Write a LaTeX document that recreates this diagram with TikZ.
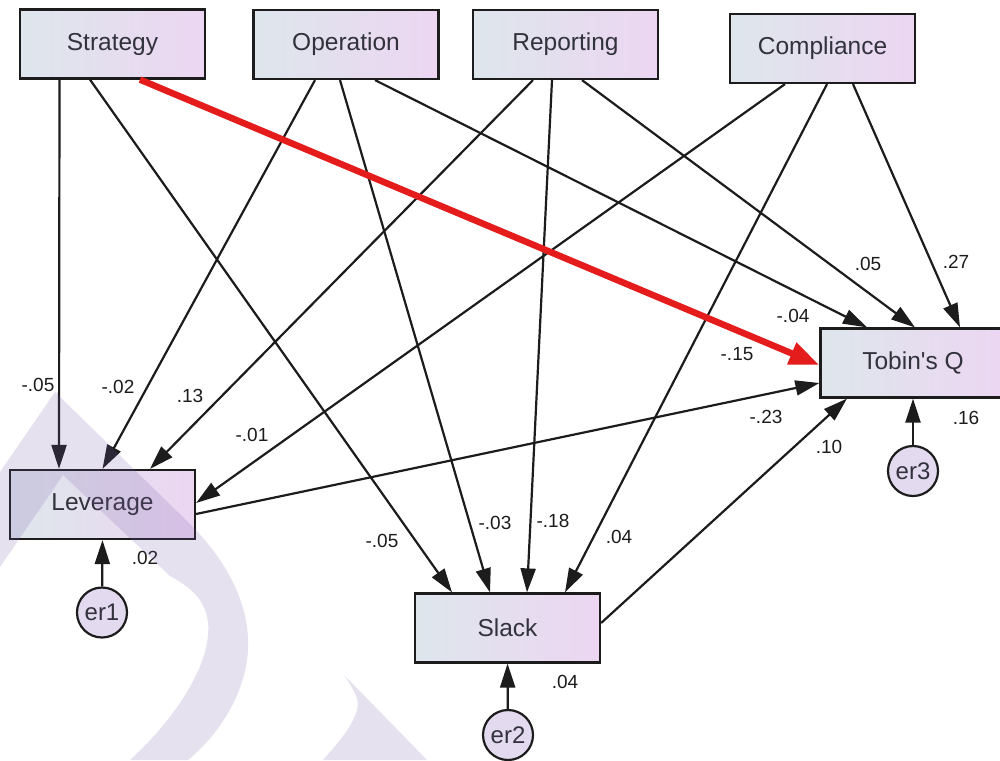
\documentclass[tikz,border=0pt]{standalone}
\usepackage{fontspec}
\setmainfont{Liberation Sans}
\usetikzlibrary{arrows.meta}

\definecolor{boxL}{RGB}{222,230,236}
\definecolor{boxR}{RGB}{236,214,242}
\definecolor{errfill}{RGB}{228,218,240}
\definecolor{ink}{RGB}{28,28,28}
\definecolor{txt}{RGB}{50,50,60}
\definecolor{pathred}{RGB}{228,28,28}
\definecolor{markcol}{RGB}{120,90,170}

\tikzset{
  var/.style={draw=ink, line width=2.2pt, left color=boxL, right color=boxR,
    minimum width=185pt, minimum height=69pt, inner sep=0pt,
    font=\fontsize{24.5}{27}\selectfont, text=txt},
  err/.style={circle, draw=ink, line width=2.2pt, fill=errfill,
    minimum size=50pt, inner sep=0pt,
    font=\fontsize{24}{26}\selectfont, text=txt},
  link/.style={draw=ink, line width=2.2pt, -{Triangle[length=24pt,width=15pt]}},
  hot/.style={draw=pathred, line width=6.5pt, -{Triangle[length=30pt,width=22pt]}},
  coef/.style={font=\fontsize{19}{21}\selectfont, text=ink, inner sep=0pt},
  watermark/.style={fill=markcol, fill opacity=0.18, draw=none},
}

\begin{document}
\begin{tikzpicture}[x=1pt,y=-1pt]
\useasboundingbox (0,0) rectangle (1000,760);
\fill[white] (0,0) rectangle (1000,760);

% observed variables
\node[var] (strat) at (112.5,44)  {Strategy};
\node[var] (oper)  at (346,44.5)  {Operation};
\node[var] (repo)  at (565.5,44.5){Reporting};
\node[var] (comp)  at (822.5,48.5){Compliance};
\node[var] (tobin) at (913,363)   {Tobin\textquotesingle s Q};
\node[var] (lev)   at (102.5,504.5){Leverage};
\node[var] (slack) at (507.5,628) {Slack};

% error terms
\node[err] (er1) at (102,612.5) {er1};
\node[err] (er2) at (508,735)   {er2};
\node[err] (er3) at (913,471)   {er3};

% paths into Leverage
\draw[link] ([xshift=-53pt]strat.south) -- ([xshift=-43.5pt]lev.north);
\draw[link] ([xshift=-31pt]oper.south)  -- (lev.north);
\draw[link] ([xshift=-32.5pt]repo.south) -- ([xshift=47.5pt]lev.north);
\draw[link] ([xshift=-37.5pt]comp.south) -- ([yshift=1.5pt]lev.east);

% paths into Slack
\draw[link] ([xshift=-22.5pt]strat.south) -- ([xshift=-55.5pt]slack.north);
\draw[link] ([xshift=-6pt]oper.south)    -- ([xshift=-17.5pt]slack.north);
\draw[link] ([xshift=-13.5pt]repo.south) -- ([xshift=19.5pt]slack.north);
\draw[link] ([xshift=4.5pt]comp.south)   -- ([xshift=57.5pt]slack.north);

% paths into Tobin's Q
\draw[link] ([xshift=29pt]oper.south)   -- ([xshift=-46pt]tobin.north);
\draw[link] ([xshift=16.5pt]repo.south) -- ([xshift=2pt]tobin.north);
\draw[link] ([xshift=30.5pt]comp.south) -- ([xshift=47pt]tobin.north);
\draw[link] ([yshift=-9.5pt]lev.east)   -- ([yshift=-20pt]tobin.west);
\draw[link] ([yshift=5pt]slack.east)    -- ([xshift=-66pt]tobin.south);

% residuals
\draw[link] (er1) -- (lev.south);
\draw[link] (er2) -- (slack.south);
\draw[link] (er3) -- (tobin.south);

% significant path
\draw[hot] ([xshift=27.5pt]strat.south) -- ([yshift=-2pt]tobin.west);

% coefficients
\node[coef] (c1)  at (38,385)  {-.05};
\node[coef] (c2)  at (118,387) {-.02};
\node[coef] (c3)  at (190,396) {.13};
\node[coef] (c4)  at (252,435) {-.01};
\node[coef] (c5)  at (145,558) {.02};
\node[coef] (c6)  at (382,541) {-.05};
\node[coef] (c7)  at (495,523) {-.03};
\node[coef] (c8)  at (553,521) {-.18};
\node[coef] (c9)  at (619,537) {.04};
\node[coef] (c10) at (565,682) {.04};
\node[coef] (c11) at (868,264) {.05};
\node[coef] (c12) at (956,262) {.27};
\node[coef] (c13) at (793,316) {-.04};
\node[coef] (c14) at (737,354) {-.15};
\node[coef] (c15) at (766,417) {-.23};
\node[coef] (c16) at (829,447) {.10};
\node[coef] (c17) at (966,418) {.16};

% background logo shapes
\path[watermark] (0,472) -- (55,392) -- (190,524)
  .. controls (232,566) and (250,610) .. (248,650)
  .. controls (246,690) and (222,732) .. (188,760)
  -- (130,760)
  .. controls (178,716) and (212,662) .. (208,622)
  .. controls (205,600) and (192,588) .. (170,576)
  -- (63,475) -- (0,567) -- cycle;
\path[watermark] (344,675)
  .. controls (354,690) and (360,700) .. (357,710)
  .. controls (352,728) and (336,745) .. (323,760)
  -- (427,760) -- cycle;
\end{tikzpicture}
\end{document}
